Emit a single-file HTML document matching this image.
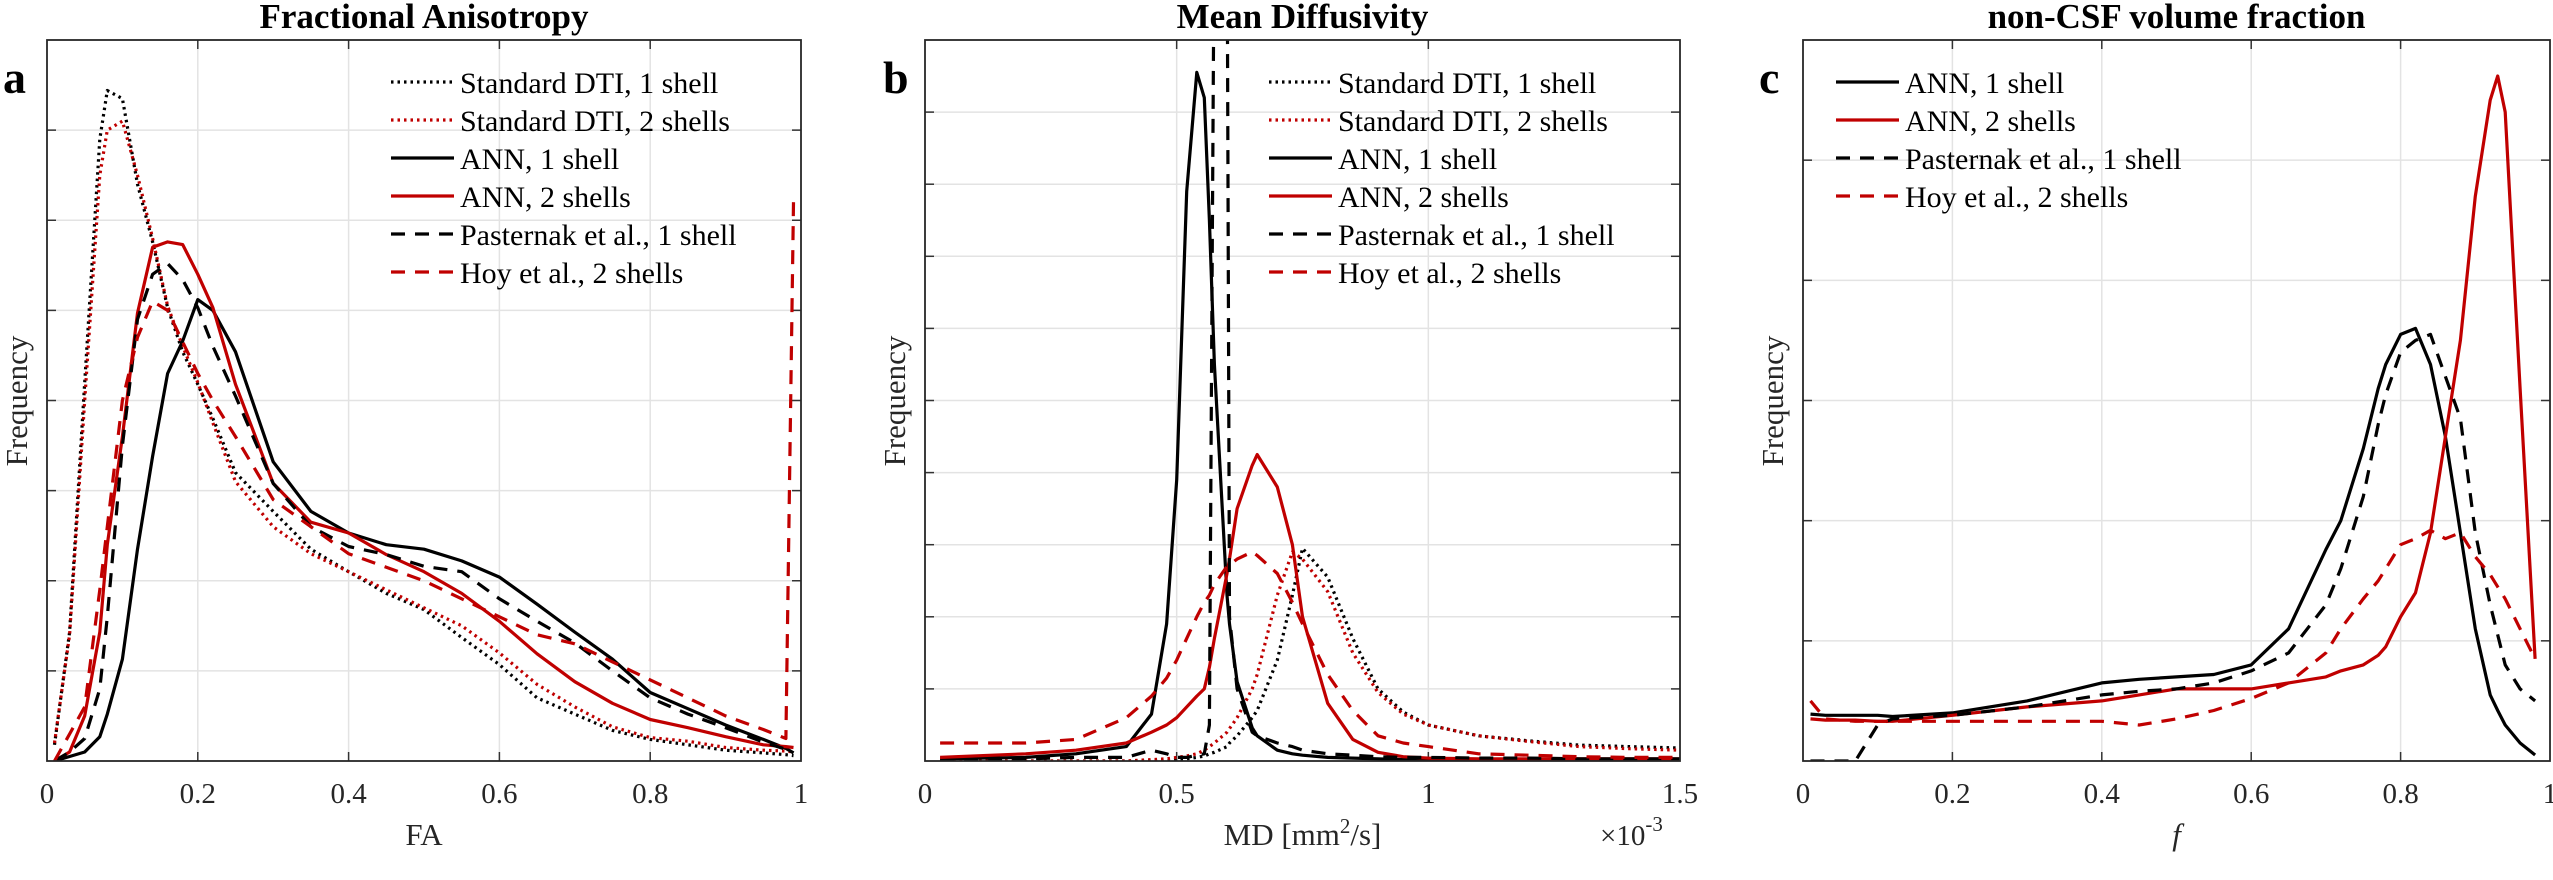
<!DOCTYPE html>
<html><head><meta charset="utf-8"><style>
html,body{margin:0;padding:0;background:#fff;}
svg{display:block;font-family:"Liberation Serif",serif;}
</style></head><body>
<svg id="chart" width="2553" height="880" viewBox="0 0 2553 880"></svg>
<script>
// ---------- Panel a: Fractional Anisotropy ----------
const faX = [0.01,0.03,0.05,0.07,0.08,0.1,0.12,0.14,0.16,0.18,0.2,0.22,0.25,0.3,0.35,0.4,0.45,0.5,0.55,0.6,0.65,0.7,0.75,0.8,0.85,0.9,0.95,0.98,0.99];
const faDti1 = [0.18,1.43,4.2,6.9,7.44,7.35,6.4,5.76,5.03,4.54,4.18,3.8,3.2,2.77,2.35,2.1,1.86,1.68,1.37,1.07,0.7,0.52,0.34,0.24,0.18,0.12,0.09,0.07,0.06];
const faDti2 = [0.2,1.4,4.0,6.5,7.0,7.1,6.5,5.8,5.05,4.6,4.2,3.75,3.1,2.6,2.3,2.1,1.9,1.7,1.5,1.2,0.85,0.6,0.38,0.26,0.22,0.15,0.12,0.11,0.1];
const faAnn1 = [0,0.05,0.1,0.27,0.52,1.13,2.35,3.38,4.3,4.66,5.12,5.0,4.54,3.32,2.77,2.53,2.4,2.35,2.22,2.04,1.74,1.43,1.13,0.76,0.58,0.4,0.24,0.14,0.09];
const faAnn2 = [0,0.1,0.5,1.43,2.4,3.6,4.97,5.7,5.76,5.73,5.4,5.03,4.18,3.08,2.65,2.53,2.29,2.1,1.86,1.55,1.19,0.88,0.64,0.46,0.37,0.27,0.18,0.16,0.15];
const faPast = [0,0.1,0.25,0.8,1.6,3.5,4.9,5.4,5.52,5.34,5.03,4.6,4.05,3.08,2.6,2.38,2.29,2.16,2.1,1.8,1.55,1.31,1.0,0.7,0.52,0.37,0.21,0.13,0.09];
const faHoy = [0,0.3,0.6,1.9,2.6,4.0,4.7,5.1,5.0,4.65,4.3,4.0,3.6,2.9,2.6,2.3,2.15,2.0,1.8,1.6,1.4,1.3,1.1,0.9,0.7,0.5,0.35,0.25,6.2];
const faXTicks = [0,0.2,0.4,0.6,0.8,1];
const faXTickLabels = ["0","0.2","0.4","0.6","0.8","1"];

// ---------- Panel b: Mean Diffusivity (x in 1e-3) ----------
const mdX = [0.03,0.2,0.3,0.4,0.45,0.48,0.5,0.52,0.54,0.555,0.565,0.575,0.6,0.605,0.62,0.65,0.66,0.7,0.73,0.75,0.8,0.85,0.9,0.95,1.0,1.1,1.2,1.3,1.4,1.5];
const mdAnn1 = [0.03,0.05,0.1,0.2,0.65,1.9,3.9,7.9,9.55,9.2,7.5,5.5,2.3,1.9,1.1,0.46,0.35,0.15,0.1,0.08,0.05,0.04,0.03,0.02,0.02,0.02,0.02,0.02,0.02,0.02];
const mdPast = [0,0.03,0.05,0.05,0.15,0.1,0.05,0.05,0.08,0.1,0.5,12,12,2,1.0,0.4,0.35,0.25,0.2,0.15,0.1,0.08,0.06,0.05,0.05,0.04,0.04,0.03,0.03,0.03];
const mdAnn2 = [0.05,0.1,0.15,0.25,0.4,0.5,0.6,0.75,0.9,1.0,1.3,1.7,2.6,2.8,3.5,4.1,4.25,3.8,3.0,2.0,0.8,0.3,0.12,0.06,0.04,0.03,0.03,0.03,0.03,0.03];
const mdDti1 = [0,0,0,0,0,0,0.02,0.03,0.05,0.07,0.1,0.12,0.2,0.25,0.35,0.6,0.7,1.4,2.3,2.95,2.55,1.7,1.0,0.68,0.5,0.35,0.28,0.22,0.2,0.18];
const mdDti2 = [0,0,0,0,0.02,0.03,0.05,0.07,0.1,0.15,0.2,0.25,0.4,0.45,0.6,1.0,1.2,2.3,2.9,2.8,2.35,1.5,0.95,0.65,0.5,0.35,0.27,0.2,0.17,0.15];
const mdHoy = [0.25,0.25,0.3,0.6,0.9,1.15,1.4,1.7,2.0,2.2,2.3,2.45,2.7,2.72,2.8,2.9,2.85,2.6,2.2,1.9,1.2,0.7,0.35,0.25,0.2,0.1,0.08,0.06,0.05,0.05];
const mdXTicks = [0,0.5,1,1.5];
const mdXTickLabels = ["0","0.5","1","1.5"];

// ---------- Panel c: non-CSF volume fraction ----------
const fX = [0.01,0.03,0.07,0.1,0.12,0.2,0.3,0.4,0.45,0.5,0.55,0.6,0.65,0.7,0.72,0.75,0.77,0.78,0.8,0.82,0.84,0.86,0.88,0.9,0.92,0.93,0.94,0.96,0.98];
const fAnn1 = [0.39,0.38,0.38,0.38,0.37,0.4,0.5,0.65,0.68,0.7,0.72,0.8,1.1,1.76,2.0,2.6,3.1,3.3,3.55,3.6,3.3,2.7,1.9,1.1,0.55,0.42,0.3,0.15,0.05];
const fPast = [0,0,0,0.3,0.35,0.38,0.45,0.55,0.58,0.6,0.65,0.75,0.9,1.3,1.6,2.2,2.8,3.05,3.4,3.5,3.55,3.2,2.85,1.9,1.3,1.05,0.8,0.6,0.5];
const fAnn2 = [0.35,0.34,0.34,0.33,0.33,0.38,0.45,0.5,0.55,0.6,0.6,0.6,0.65,0.7,0.75,0.8,0.88,0.95,1.2,1.4,1.9,2.7,3.5,4.7,5.5,5.7,5.4,3.1,0.85];
const fHoy = [0.5,0.35,0.33,0.33,0.33,0.33,0.33,0.33,0.3,0.35,0.42,0.52,0.65,0.9,1.1,1.35,1.5,1.6,1.8,1.85,1.92,1.85,1.9,1.7,1.55,1.45,1.35,1.1,0.85];
const fXTicks = [0,0.2,0.4,0.6,0.8,1];
const fXTickLabels = ["0","0.2","0.4","0.6","0.8","1"];

const NS = "http://www.w3.org/2000/svg";
const svg = document.getElementById("chart");
const RED = "#c00000", BLK = "#000";
const STY = {dot:"2.5,4", dash:"14,10", solid:""};

function mk(tag, attrs, parent){
  const e = document.createElementNS(NS, tag);
  for (const k in attrs) e.setAttribute(k, attrs[k]);
  (parent||svg).appendChild(e);
  return e;
}

function panel(cfg){
  const g = mk("g", {});
  
  
  const {L,R,T,B} = cfg;
  const sx = v => L + (v - cfg.xmin) / (cfg.xmax - cfg.xmin) * (R - L);
  const sy = v => B - v / cfg.ymax * (B - T);
  const clip = mk("clipPath", {id: cfg.name + "-clip"}, g);
  mk("rect", {x:L, y:T, width:R-L, height:B-T}, clip);
  for (let i = 1; i < cfg.ymax; i++) {
    const gl = mk("line", {x1:L, x2:R, y1:sy(i), y2:sy(i), stroke:"#e3e3e3", "stroke-width":1.5}, g);
    
    
    const t1 = mk("line", {x1:L, x2:L+9, y1:sy(i), y2:sy(i), stroke:"#333", "stroke-width":1.5}, g);
    
    
    const t2 = mk("line", {x1:R-9, x2:R, y1:sy(i), y2:sy(i), stroke:"#333", "stroke-width":1.5}, g);
    
    
  }
  cfg.ticks.forEach((tv, i) => {
    const x = sx(tv);
    if (tv > cfg.xmin && tv < cfg.xmax) {
      const gl = mk("line", {x1:x, x2:x, y1:T, y2:B, stroke:"#e3e3e3", "stroke-width":1.5}, g);
      
      
      const t1 = mk("line", {x1:x, x2:x, y1:B-9, y2:B, stroke:"#333", "stroke-width":1.5}, g);
      
      
      const t2 = mk("line", {x1:x, x2:x, y1:T, y2:T+9, stroke:"#333", "stroke-width":1.5}, g);
      
      
    }
    const tl = mk("text", {x:x, y:803, "font-size":29, "text-anchor":"middle", fill:"#262626"}, g);
    tl.textContent = cfg.tickLabels[i];
    
    
  });
  cfg.series.forEach(s => {
    const d = cfg.x.map((xv, i) => (i ? "L" : "M") + sx(xv).toFixed(1) + "," + sy(s.y[i]).toFixed(1)).join(" ");
    const p = mk("path", {d:d, fill:"none", stroke:s.color, "stroke-width":3.2,
      "stroke-dasharray":STY[s.style], "stroke-linejoin":"round", "clip-path":"url(#" + cfg.name + "-clip)"}, g);
    
    
  });
  const box = mk("rect", {x:L, y:T, width:R-L, height:B-T, fill:"none", stroke:"#262626", "stroke-width":1.8}, g);
  
  
  const ti = mk("text", {x:(L+R)/2, y:28, "font-size":35, "font-weight":"bold", "text-anchor":"middle"}, g);
  ti.textContent = cfg.title;
  
  
  const pl = mk("text", {x:cfg.letterX, y:93, "font-size":46, "font-weight":"bold"}, g);
  pl.textContent = cfg.letter;
  
  
  const yl = mk("text", {x:0, y:0, "font-size":31, "text-anchor":"middle", fill:"#262626",
    transform:"translate(" + (L-20) + ",401) rotate(-90)"}, g);
  yl.textContent = "Frequency";
  
  
  const xl = mk("text", {x:(L+R)/2, y:845, "font-size":31, "text-anchor":"middle", fill:"#262626"}, g);
  if (cfg.xlabelHTML) {
    cfg.xlabelHTML(xl);
  } else {
    xl.textContent = cfg.xlabel;
    if (cfg.italic) xl.setAttribute("font-style", "italic");
  }
  
  
  const lg = mk("g", {}, g);
  
  
  cfg.series.forEach((s, i) => {
    const y = 82 + i * 38;
    const ln = mk("line", {x1:cfg.legX, x2:cfg.legX+63, y1:y, y2:y, stroke:s.color, "stroke-width":3.2,
      "stroke-dasharray":STY[s.style]}, lg);
    
    
    const tx = mk("text", {x:cfg.legX+69, y:y+11, "font-size":30}, lg);
    tx.textContent = s.label;
    
    
  });
}

panel({name:"panel-fa", L:47, R:801, T:40, B:761, xmin:0, xmax:1, ymax:8,
  x:faX, ticks:faXTicks, tickLabels:faXTickLabels, title:"Fractional Anisotropy", letter:"a", letterX:3,
  xlabel:"FA", legX:391,
  series:[
    {name:"line-dti-1-shell", label:"Standard DTI, 1 shell", color:BLK, style:"dot", y:faDti1},
    {name:"line-dti-2-shells", label:"Standard DTI, 2 shells", color:RED, style:"dot", y:faDti2},
    {name:"line-ann-1-shell", label:"ANN, 1 shell", color:BLK, style:"solid", y:faAnn1},
    {name:"line-ann-2-shells", label:"ANN, 2 shells", color:RED, style:"solid", y:faAnn2},
    {name:"line-pasternak-1-shell", label:"Pasternak et al., 1 shell", color:BLK, style:"dash", y:faPast},
    {name:"line-hoy-2-shells", label:"Hoy et al., 2 shells", color:RED, style:"dash", y:faHoy}
  ]});

panel({name:"panel-md", L:925, R:1680, T:40, B:761, xmin:0, xmax:1.5, ymax:10,
  x:mdX, ticks:mdXTicks, tickLabels:mdXTickLabels, title:"Mean Diffusivity", letter:"b", letterX:883,
  xlabelHTML:(el)=>{
    const a = mk("tspan", {}, el); a.textContent = "MD [mm";
    const b = mk("tspan", {dy:-12, "font-size":21}, el); b.textContent = "2";
    const c = mk("tspan", {dy:12}, el); c.textContent = "/s]";
  }, legX:1269,
  series:[
    {name:"line-dti-1-shell", label:"Standard DTI, 1 shell", color:BLK, style:"dot", y:mdDti1},
    {name:"line-dti-2-shells", label:"Standard DTI, 2 shells", color:RED, style:"dot", y:mdDti2},
    {name:"line-ann-1-shell", label:"ANN, 1 shell", color:BLK, style:"solid", y:mdAnn1},
    {name:"line-ann-2-shells", label:"ANN, 2 shells", color:RED, style:"solid", y:mdAnn2},
    {name:"line-pasternak-1-shell", label:"Pasternak et al., 1 shell", color:BLK, style:"dash", y:mdPast},
    {name:"line-hoy-2-shells", label:"Hoy et al., 2 shells", color:RED, style:"dash", y:mdHoy}
  ]});

const mult = mk("text", {x:1600, y:845, "font-size":29, fill:"#262626"});


const m1 = mk("tspan", {}, mult); m1.textContent = "×10";
const m2 = mk("tspan", {dy:-14, "font-size":21}, mult); m2.textContent = "-3";

panel({name:"panel-f", L:1803, R:2550, T:40, B:761, xmin:0, xmax:1, ymax:6,
  x:fX, ticks:fXTicks, tickLabels:fXTickLabels, title:"non-CSF volume fraction", letter:"c", letterX:1759,
  xlabel:"f", italic:true, legX:1836,
  series:[
    {name:"line-ann-1-shell", label:"ANN, 1 shell", color:BLK, style:"solid", y:fAnn1},
    {name:"line-ann-2-shells", label:"ANN, 2 shells", color:RED, style:"solid", y:fAnn2},
    {name:"line-pasternak-1-shell", label:"Pasternak et al., 1 shell", color:BLK, style:"dash", y:fPast},
    {name:"line-hoy-2-shells", label:"Hoy et al., 2 shells", color:RED, style:"dash", y:fHoy}
  ]});
</script>
</body></html>
